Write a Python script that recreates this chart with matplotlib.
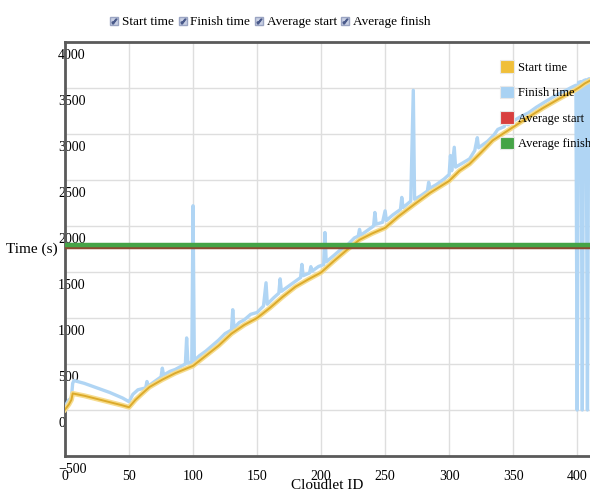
import matplotlib
matplotlib.use("Agg")
import matplotlib.pyplot as plt
from matplotlib.lines import Line2D
from matplotlib.patches import Patch
from matplotlib.legend_handler import HandlerTuple
from matplotlib.transforms import ScaledTranslation

# data
start_ids = [0, 3, 5, 6, 15, 25, 35, 45, 50, 55, 60, 66, 76, 86, 100, 110, 120,
             130, 140, 150, 160, 170, 180, 190, 200, 210, 221, 230, 240, 250,
             260, 273, 285, 300, 308, 316, 325, 334, 345, 360, 373, 386, 398,
             402, 406, 410]
start_times = [5, 60, 110, 180, 155, 120, 85, 50, 30, 110, 175, 250, 330, 400,
               480, 590, 700, 830, 925, 1000, 1110, 1230, 1340, 1420, 1495,
               1620, 1750, 1850, 1920, 1980, 2100, 2238, 2360, 2490, 2600,
               2675, 2800, 2930, 3030, 3166, 3280, 3384, 3475, 3510, 3550, 3580]

finish_ids = [0, 3, 5, 6, 7, 15, 25, 35, 45, 50, 53, 57, 60, 63, 64, 65, 70, 75,
              76, 77, 82, 86, 90, 94, 95, 96, 99, 100, 101, 105, 110, 115, 120,
              125, 130, 131, 132, 136, 140, 145, 150, 155, 157, 158, 163, 167,
              168, 169, 175, 180, 184, 185, 186, 191, 192, 193, 198, 202, 203,
              204, 210, 215, 221, 226, 229, 230, 231, 236, 241, 242, 243, 248,
              250, 251, 256, 262, 263, 264, 270, 272, 273, 278, 283, 284, 285,
              290, 296, 300, 301, 302, 304, 305, 310, 316, 320, 322, 323, 326,
              330, 335, 338, 343, 345, 346, 350, 356, 362, 368, 375, 381, 386,
              392, 396, 399, 400, 401, 403, 404, 405, 407, 408, 409, 410]
finish_times = [40, 110, 130, 290, 320, 290, 240, 190, 130, 90, 170, 220, 230,
                240, 310, 260, 310, 360, 455, 380, 420, 440, 470, 500, 783, 510,
                520, 2220, 540, 590, 640, 700, 760, 830, 870, 1090, 890, 950,
                980, 1040, 1060, 1130, 1383, 1150, 1220, 1270, 1426, 1290, 1350,
                1400, 1440, 1583, 1460, 1490, 1558, 1510, 1560, 1580, 1929, 1610,
                1680, 1740, 1800, 1870, 1890, 1963, 1900, 1950, 2000, 2147, 2020,
                2040, 2165, 2060, 2120, 2180, 2311, 2200, 2270, 3475, 2290, 2330,
                2380, 2475, 2410, 2450, 2510, 2560, 2766, 2600, 2856, 2640, 2680,
                2730, 2820, 2960, 2850, 2880, 2920, 2990, 3050, 3080, 3150, 3100,
                3140, 3190, 3230, 3290, 3350, 3400, 3440, 3480, 3510, 3530, 0,
                3560, 3570, 0, 3580, 3590, 0, 3600, 3600]

avg_start = 1772
avg_finish = 1790

series_names = ["Start time", "Finish time", "Average start", "Average finish"]
colors = ["#f0bf3a", "#a9d2f3", "#d83f3f", "#45a447"]

x_ticks = [0, 50, 100, 150, 200, 250, 300, 350, 400]
y_ticks = [-500, 0, 500, 1000, 1500, 2000, 2500, 3000, 3500, 4000]

serif = "Liberation Serif"

fig = plt.figure(figsize=(5.9, 4.92), dpi=100)
ax = fig.add_axes([65 / 590, 36 / 492, 525 / 590, 414 / 492])

ax.plot(finish_ids, finish_times, color="#b0d5f4", lw=2.4,
        solid_joinstyle="round", zorder=3)
ax.plot(start_ids, start_times, color="#f6dc8e", lw=3.6, zorder=4)
ax.plot(start_ids, start_times, color="#dcaa2a", lw=1.4, zorder=5)
ax.axhline(avg_start, color="#8a4a30", lw=2.5, zorder=6)
ax.axhline(avg_finish, color=colors[3], lw=3.2, zorder=7)

ax.set_xlim(0, 410)
ax.set_ylim(-500, 4000)
ax.set_xticks(x_ticks)
ax.set_yticks(y_ticks)
ax.grid(True, color="#dedede", lw=1)
ax.set_axisbelow(True)

for side in ["top", "left", "bottom"]:
    ax.spines[side].set_color("#5a5a5a")
    ax.spines[side].set_linewidth(2)
ax.spines["right"].set_visible(False)

ax.tick_params(axis="both", length=0, labelsize=10)
ax.tick_params(axis="x", pad=10)
ax.tick_params(axis="y", pad=5)
for lab in ax.get_xticklabels() + ax.get_yticklabels():
    lab.set_fontfamily(serif)
offset = ScaledTranslation(0, -0.12, fig.dpi_scale_trans)
for lab in ax.get_yticklabels():
    lab.set_horizontalalignment("left")
    lab.set_transform(lab.get_transform() + offset)

ax.set_xlabel("Cloudlet ID", fontfamily=serif, fontsize=11)
ax.xaxis.set_label_coords(0.5, -0.055)
ax.set_ylabel("Time (s)", fontfamily=serif, fontsize=11, rotation=0,
              ha="right", va="center")
ax.yaxis.set_label_coords(-0.015, 0.5)

# legend inside the plot
patches = [Patch(facecolor=c, edgecolor="#e8e8e8", lw=0.8) for c in colors]
ax.legend(patches, series_names, loc="upper left",
          bbox_to_anchor=(500 / 590, 1 - 60 / 492), bbox_transform=fig.transFigure,
          frameon=False, borderpad=0, borderaxespad=0, handlelength=1.1,
          handleheight=1.2, handletextpad=0.3, labelspacing=0.95,
          prop={"family": serif, "size": 9})

# checkbox legend on top
boxes = []
for _ in series_names:
    box = Line2D([], [], marker="s", ls="", markersize=6,
                 markerfacecolor="#c9d0e4", markeredgecolor="#9aa4c2")
    tick = Line2D([], [], marker="$\\checkmark$", ls="", markersize=3.5,
                  color="#4a5a8a")
    boxes.append((box, tick))
fig.legend(boxes, series_names, loc="center", bbox_to_anchor=(0.458, 0.955),
           ncol=4, frameon=False, handlelength=0.7, handletextpad=0.25,
           columnspacing=0.3, handler_map={tuple: HandlerTuple(ndivide=1)},
           prop={"family": serif, "size": 9.5})

fig.savefig("out.png", dpi=100)
